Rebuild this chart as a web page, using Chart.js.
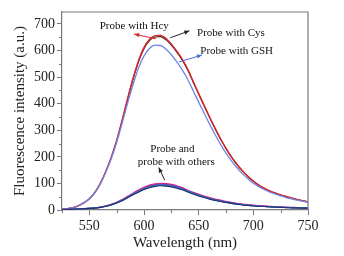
<!DOCTYPE html>
<html>
<head>
<meta charset="utf-8">
<script src="https://cdn.jsdelivr.net/npm/chart.js@4/dist/chart.umd.min.js"></script>
<style>
html,body{margin:0;padding:0;background:#fff;}
#wrap{width:344px;height:256px;position:relative;}
</style>
</head>
<body>
<div id="wrap"><canvas id="c" width="344" height="256"></canvas></div>
<script>
const wavelengths = [525,530,535,540,545,550,555,560,565,570,575,580,585,590,595,600,605,610,615,620,625,630,635,640,645,650,655,660,665,670,675,680,685,690,695,700,705,710,715,720,725,730,735,740,745,750];
const hcy = [3,5,9,16,27,42,66,100,145,198,262,338,420,496,562,612,642,656,657,646,624,598,568,530,484,438,394,350,308,268,232,200,172,148,127,109,94,82,72,64,57,51,45,40,35,31];
const cys = [3,5,9,16,27,42,65,99,144,196,260,335,416,492,558,607,637,651,652,641,620,594,564,527,481,436,392,348,306,267,231,199,171,147,126,108,93,81,71,63,56,50,44,39,35,31];
const gsh = [3,5,9,16,27,42,65,98,142,192,254,326,402,472,534,580,608,620,619,606,584,557,527,491,449,406,364,323,284,247,214,185,159,137,118,101,88,77,67,60,53,47,42,37,33,29];
const other1 = [1,2,3,4,5,6,8,11,15,21,29,39,51,63,75,85,93,98,100,99,96,91,84,74,66,59,52,46,41,37,32,28,25,22,20,18,16,15,13,12,11,10,10,9,9,8];
const other2 = [1,2,3,4,5,6,8,11,15,20,28,38,49,61,72,82,90,95,97,96,93,88,81,72,64,57,50,44,39,35,31,27,24,21,19,17,15,14,13,12,11,10,9,9,8,8];
const other3 = [1,2,3,4,5,6,8,10,14,20,27,37,48,59,70,80,88,93,95,94,91,86,79,71,63,56,49,43,38,34,30,26,23,20,18,16,15,13,12,11,10,10,9,8,8,7];
const other4 = [1,2,3,4,5,6,7,10,14,19,26,36,47,58,69,78,86,91,93,92,89,84,77,69,61,54,48,42,37,33,29,25,22,20,18,16,14,13,12,11,10,9,9,8,8,7];
const other5 = [1,2,3,4,5,6,7,10,13,19,26,35,46,57,67,77,84,89,91,90,87,82,76,68,60,53,47,41,36,32,28,25,22,19,17,15,14,13,12,11,10,9,8,8,7,7];
const xTicks = [550,600,650,700,750];
const xMinorTicks = [525,575,625,675,725];
const yTicks = [0,100,200,300,400,500,600,700];
const yMinorTicks = [50,150,250,350,450,550,650];

const SERIF = '"Liberation Serif","Times New Roman",serif';
const AX = '#7a7a7a';

function toXY(arr){ return arr.map((v,i)=>({x:wavelengths[i], y:v})); }
function ds(label, arr, color, w){
  return {label, data: toXY(arr), borderColor: color, backgroundColor: color, borderWidth: w||1.3,
    pointRadius: 0, fill: false, cubicInterpolationMode: 'monotone'};
}

const annotations = [
  {text:'Probe with Hcy', x:559.5, y:692, align:'left', arrow:{from:[611,644], to:[591,662], color:'#d8262b'}},
  {text:'Probe with Cys', x:648.5, y:666, align:'left', arrow:{from:[624,648], to:[641.5,674], color:'#222'}},
  {text:'Probe with GSH', x:651.5, y:598, align:'left', arrow:{from:[632,557], to:[653,583], color:'#4a6ad8'}},
  {text:'Probe and', x:626, y:230, align:'center'},
  {text:'probe with others', x:629.5, y:181, align:'center', arrow:{from:[619,112], to:[613.5,160], color:'#222'}}
];

const decor = {
  id:'decor',
  afterDraw(chart){
    const ctx = chart.ctx, a = chart.chartArea, xs = chart.scales.x, ys = chart.scales.y;
    ctx.save();
    ctx.strokeStyle = AX; ctx.lineWidth = 1.2;
    ctx.beginPath();
    ctx.moveTo(a.left, a.top); ctx.lineTo(a.right, a.top); ctx.lineTo(a.right, a.bottom);
    ctx.stroke();
    ctx.lineWidth = 1;
    ctx.beginPath();
    xMinorTicks.forEach(v=>{ const px = Math.round(xs.getPixelForValue(v))+0.5; ctx.moveTo(px, a.bottom); ctx.lineTo(px, a.bottom+3); });
    yMinorTicks.forEach(v=>{ const py = Math.round(ys.getPixelForValue(v))+0.5; ctx.moveTo(a.left, py); ctx.lineTo(a.left-3, py); });
    ctx.stroke();
    ctx.font = '11px ' + SERIF;
    ctx.fillStyle = '#111';
    ctx.textBaseline = 'middle';
    annotations.forEach(an=>{
      ctx.textAlign = an.align;
      ctx.fillText(an.text, xs.getPixelForValue(an.x), ys.getPixelForValue(an.y));
      if(an.arrow){
        const x1 = xs.getPixelForValue(an.arrow.from[0]), y1 = ys.getPixelForValue(an.arrow.from[1]);
        const x2 = xs.getPixelForValue(an.arrow.to[0]), y2 = ys.getPixelForValue(an.arrow.to[1]);
        ctx.strokeStyle = an.arrow.color; ctx.fillStyle = an.arrow.color; ctx.lineWidth = 1;
        ctx.beginPath(); ctx.moveTo(x1,y1); ctx.lineTo(x2,y2); ctx.stroke();
        const ang = Math.atan2(y2-y1, x2-x1), L = 5, W = 2.2;
        ctx.beginPath();
        ctx.moveTo(x2,y2);
        ctx.lineTo(x2 - L*Math.cos(ang) + W*Math.sin(ang), y2 - L*Math.sin(ang) - W*Math.cos(ang));
        ctx.lineTo(x2 - L*Math.cos(ang) - W*Math.sin(ang), y2 - L*Math.sin(ang) + W*Math.cos(ang));
        ctx.closePath(); ctx.fill();
        ctx.fillStyle = '#111';
      }
    });
    ctx.restore();
  }
};

new Chart(document.getElementById('c'), {
  type: 'line',
  data: {
    datasets: [
      ds('others 5', other5, '#1f2f72', 1.1),
      ds('others 4', other4, '#2a8a9a', 1.1),
      ds('others 3', other3, '#3556c8', 1.1),
      ds('others 2', other2, '#8a3fc0', 1.2),
      ds('others 1', other1, '#e0207a', 1.4),
      ds('Probe with GSH', gsh, '#6f86e6'),
      ds('Probe with Hcy', hcy, '#d8262b', 1.4),
      ds('Probe with Cys', cys, '#4a2418', 1.2)
    ]
  },
  options: {
    responsive: false,
    animation: false,
    events: [],
    layout: { padding: { top: 12, right: 36, left: 0, bottom: 4 } },
    plugins: { legend: { display: false }, tooltip: { enabled: false } },
    scales: {
      x: {
        type: 'linear', min: 525, max: 750,
        afterBuildTicks: s => { s.ticks = xTicks.map(v=>({value:v})); },
        afterFit: s => { s.height = 42; },
        ticks: { font: { family: SERIF, size: 14 }, color: '#222', padding: 3, maxRotation: 0 },
        grid: { drawOnChartArea: false, tickLength: 5, color: AX, lineWidth: 1 },
        border: { color: AX, width: 1.2 },
        title: { display: true, text: 'Wavelength (nm)', font: { family: SERIF, size: 15 }, color: '#222', padding: { top: 0, bottom: 0 } }
      },
      y: {
        type: 'linear', min: 0, max: 745,
        afterBuildTicks: s => { s.ticks = yTicks.map(v=>({value:v})); },
        afterFit: s => { s.width = 62; },
        ticks: { font: { family: SERIF, size: 14 }, color: '#222', padding: 2 },
        grid: { drawOnChartArea: false, tickLength: 5, color: AX, lineWidth: 1 },
        border: { color: AX, width: 1.2 },
        title: { display: true, text: 'Fluorescence intensity (a.u.)', font: { family: SERIF, size: 15 }, color: '#222', padding: { top: 11, bottom: 0 } }
      }
    }
  },
  plugins: [decor]
});
</script>
</body>
</html>
